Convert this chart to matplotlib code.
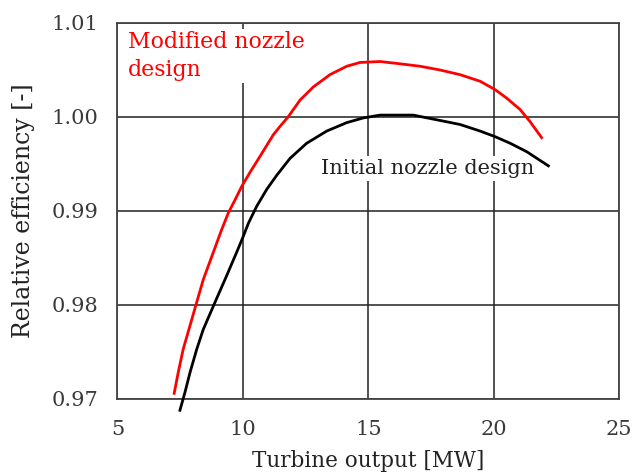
import matplotlib
matplotlib.use('Agg')
import matplotlib.pyplot as plt

plt.rcParams['font.family'] = ['DejaVu Serif']

# 改良前后喷嘴设计的相对效率曲线
x_modified = [7.26, 7.42, 7.62, 7.89, 8.16, 8.42, 8.82, 9.15, 9.42, 9.69,
              9.95, 10.28, 10.68, 11.21, 11.48, 11.80, 12.28, 12.81, 13.47,
              14.14, 14.67, 15.47, 16.13, 17.06, 17.86, 18.66, 19.46, 20.06,
              20.52, 21.05, 21.45, 21.91]
y_modified = [0.9706, 0.9728, 0.9753, 0.9778, 0.9803, 0.9827, 0.9856, 0.9880,
              0.9898, 0.9912, 0.9926, 0.9941, 0.9958, 0.9981, 0.9990, 1.0000,
              1.0018, 1.0032, 1.0045, 1.0054, 1.0058, 1.0059, 1.0057, 1.0054,
              1.0050, 1.0045, 1.0038, 1.0029, 1.0020, 1.0008, 0.9995, 0.9978]

x_initial = [7.49, 7.69, 7.89, 8.16, 8.42, 8.89, 9.35, 9.75, 10.00, 10.22,
             10.55, 10.95, 11.35, 11.88, 12.54, 13.34, 14.14, 14.80, 15.47,
             16.79, 17.73, 18.66, 19.46, 20.06, 20.66, 21.32, 22.18]
y_initial = [0.9688, 0.9707, 0.9728, 0.9753, 0.9774, 0.9803, 0.9831, 0.9856,
             0.9872, 0.9887, 0.9905, 0.9923, 0.9938, 0.9956, 0.9972, 0.9985,
             0.9994, 0.9999, 1.0002, 1.0002, 0.9997, 0.9992, 0.9985, 0.9979,
             0.9972, 0.9963, 0.9948]

x_ticks = [5, 10, 15, 20, 25]
y_ticks = [0.97, 0.98, 0.99, 1.00, 1.01]

fig = plt.figure(figsize=(6.33, 4.72), dpi=100)
ax = fig.add_axes([0.1856, 0.1547, 0.7925, 0.7966])

ax.plot(x_modified, y_modified, color='#ff0000', lw=2.0, zorder=3,
        solid_joinstyle='round')
ax.plot(x_initial, y_initial, color='black', lw=2.0, zorder=3, clip_on=False,
        solid_joinstyle='round')

ax.set_xlim(5, 25)
ax.set_ylim(0.97, 1.01)
ax.set_xticks(x_ticks)
ax.set_yticks(y_ticks)
ax.set_yticklabels(['%.2f' % v for v in y_ticks])
ax.grid(True, color='#222222', lw=1.1)
ax.set_axisbelow(True)
for s in ax.spines.values():
    s.set_color('#444444')
    s.set_linewidth(1.3)
ax.tick_params(length=0, labelsize=15, labelcolor='#3a3a3a')
ax.tick_params(axis='x', pad=15)
ax.tick_params(axis='y', pad=14)

ax.set_xlabel('Turbine output [MW]', fontsize=15.5, color='#222222', labelpad=8)
ax.set_ylabel('Relative efficiency [-]', fontsize=17, color='#222222')
ax.yaxis.set_label_coords(-0.165, 0.5)

# 文字标注带白底，遮住网格线
ax.text(5.4, 1.0091, 'Modified nozzle\ndesign', color='#ff0000', fontsize=15.8,
        va='top', ha='left', linespacing=1.3, zorder=2,
        bbox=dict(facecolor='white', edgecolor='none', pad=2))
ax.text(17.35, 0.9945, 'Initial nozzle design', color='#222222', fontsize=15,
        va='center', ha='center', zorder=2,
        bbox=dict(facecolor='white', edgecolor='none', pad=2))

fig.savefig('out.png', dpi=100)
